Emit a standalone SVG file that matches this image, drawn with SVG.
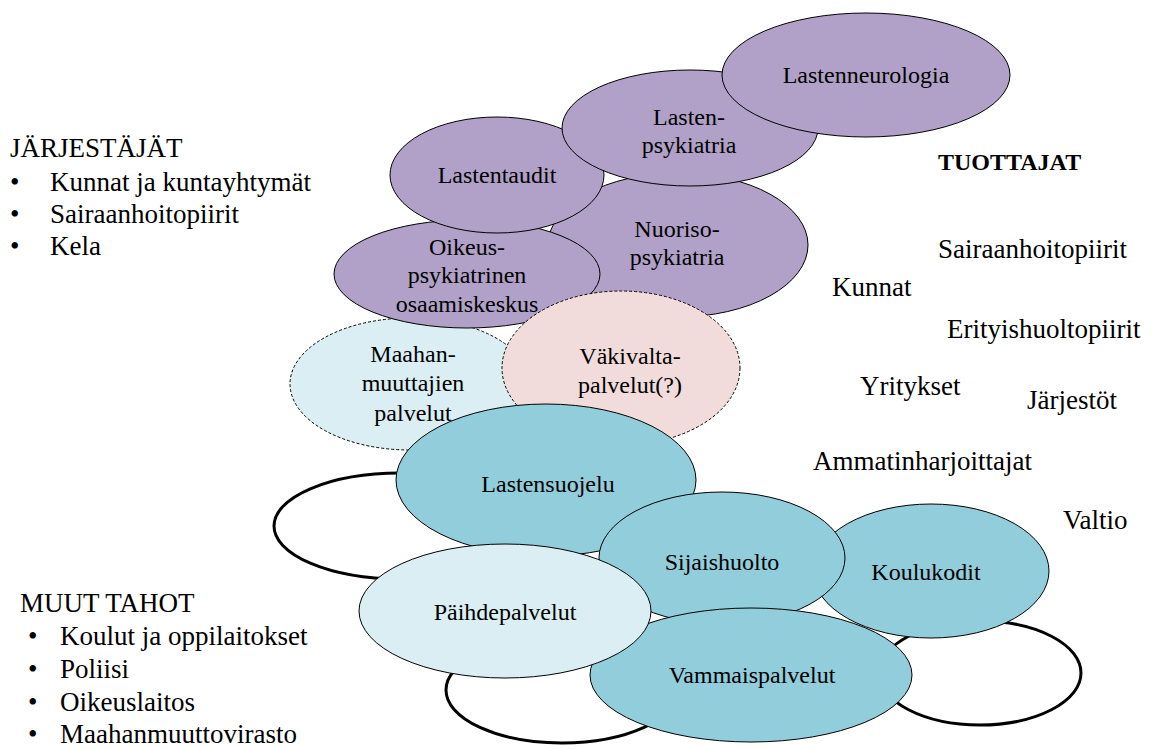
<svg xmlns="http://www.w3.org/2000/svg" width="1151" height="749" viewBox="0 0 1151 749">
  <style>
    text { font-family: 'Liberation Serif', 'DejaVu Serif', serif; fill: #000; }
    .lbl { font-size: 24px; text-anchor: middle; }
    .side { font-size: 27px; }
    .head { font-size: 24px; font-weight: bold; }
    .purple { fill: #B1A0C7; stroke: #000; stroke-width: 1; }
    .teal { fill: #92CDDC; stroke: #000; stroke-width: 1; }
    .pale { fill: #DAEEF3; stroke: #000; stroke-width: 1; }
    .dash-blue { fill: #DAEEF3; stroke: #000; stroke-width: 1; stroke-dasharray: 3 2; }
    .dash-pink { fill: #F2DCDB; stroke: #000; stroke-width: 1; stroke-dasharray: 3 2; }
    .blank { fill: #FFFFFF; stroke: #000; stroke-width: 3; }
  </style>
  <rect width="1151" height="749" fill="#FFFFFF"/>

  <!-- left-hand lists -->
  <g id="jarjestajat" font-family="Liberation Serif, serif">
    <text class="side" x="10" y="157">JÄRJESTÄJÄT</text>
    <text class="side" x="10" y="191">•</text>
    <text class="side" x="50" y="191">Kunnat ja kuntayhtymät</text>
    <text class="side" x="10" y="223">•</text>
    <text class="side" x="50" y="223">Sairaanhoitopiirit</text>
    <text class="side" x="10" y="255">•</text>
    <text class="side" x="50" y="255">Kela</text>
  </g>
  <g id="muut-tahot">
    <text class="side" x="20" y="612">MUUT TAHOT</text>
    <text class="side" x="28" y="645">•</text>
    <text class="side" x="60" y="645">Koulut ja oppilaitokset</text>
    <text class="side" x="28" y="678">•</text>
    <text class="side" x="60" y="678">Poliisi</text>
    <text class="side" x="28" y="711">•</text>
    <text class="side" x="60" y="711">Oikeuslaitos</text>
    <text class="side" x="28" y="743">•</text>
    <text class="side" x="60" y="743">Maahanmuuttovirasto</text>
  </g>

  <!-- producers on the right -->
  <g id="tuottajat">
    <text class="head" x="938" y="170">TUOTTAJAT</text>
    <text class="side" x="938" y="258">Sairaanhoitopiirit</text>
    <text class="side" x="832" y="296">Kunnat</text>
    <text class="side" x="947" y="338">Erityishuoltopiirit</text>
    <text class="side" x="860" y="395">Yritykset</text>
    <text class="side" x="1027" y="409">Järjestöt</text>
    <text class="side" x="813" y="470">Ammatinharjoittajat</text>
    <text class="side" x="1063" y="529">Valtio</text>
  </g>

  <!-- empty outlined ellipses behind the lower cluster -->
  <g id="blank-left"><ellipse class="blank" cx="400" cy="526" rx="126" ry="53"/></g>
  <g id="blank-bottom"><ellipse class="blank" cx="562" cy="690" rx="116" ry="53"/></g>
  <g id="blank-right"><ellipse class="blank" cx="980" cy="673" rx="101" ry="52"/></g>

  <!-- dashed: immigrant services -->
  <g id="maahanmuuttajien-palvelut">
    <ellipse class="dash-blue" cx="410" cy="384" rx="120" ry="66"/>
    <text class="lbl" x="413" y="362">Maahan-</text>
    <text class="lbl" x="413" y="391">muuttajien</text>
    <text class="lbl" x="413" y="421">palvelut</text>
  </g>

  <!-- health-care cluster -->
  <g id="nuorisopsykiatria">
    <ellipse class="purple" cx="678" cy="245" rx="130" ry="72"/>
    <text class="lbl" x="677" y="237">Nuoriso-</text>
    <text class="lbl" x="677" y="265">psykiatria</text>
  </g>
  <g id="oikeuspsykiatria">
    <ellipse class="purple" cx="467" cy="274" rx="133" ry="54"/>
    <text class="lbl" x="467" y="255">Oikeus-</text>
    <text class="lbl" x="467" y="283">psykiatrinen</text>
    <text class="lbl" x="467" y="312">osaamiskeskus</text>
  </g>
  <g id="lastentaudit">
    <ellipse class="purple" cx="497" cy="175" rx="107" ry="58"/>
    <text class="lbl" x="497" y="183">Lastentaudit</text>
  </g>
  <g id="lastenpsykiatria">
    <ellipse class="purple" cx="690" cy="128" rx="128" ry="58"/>
    <text class="lbl" x="689" y="125">Lasten-</text>
    <text class="lbl" x="689" y="153">psykiatria</text>
  </g>
  <g id="lastenneurologia">
    <ellipse class="purple" cx="866" cy="75" rx="144" ry="62"/>
    <text class="lbl" x="866" y="83">Lastenneurologia</text>
  </g>

  <!-- dashed: violence services -->
  <g id="vakivaltapalvelut">
    <ellipse class="dash-pink" cx="621" cy="368" rx="119" ry="77"/>
    <text class="lbl" x="630" y="364">Väkivalta-</text>
    <text class="lbl" x="630" y="393">palvelut(?)</text>
  </g>

  <!-- social-care cluster -->
  <g id="lastensuojelu">
    <ellipse class="teal" cx="546" cy="480" rx="150" ry="76"/>
    <text class="lbl" x="548" y="492">Lastensuojelu</text>
  </g>
  <g id="koulukodit">
    <ellipse class="teal" cx="931" cy="571" rx="118" ry="67"/>
    <text class="lbl" x="926" y="580">Koulukodit</text>
  </g>
  <g id="sijaishuolto">
    <ellipse class="teal" cx="722" cy="558" rx="123" ry="66"/>
    <text class="lbl" x="722" y="570">Sijaishuolto</text>
  </g>
  <g id="vammaispalvelut">
    <ellipse class="teal" cx="751" cy="675" rx="161" ry="67"/>
    <text class="lbl" x="752" y="683">Vammaispalvelut</text>
  </g>
  <g id="paihdepalvelut">
    <ellipse class="pale" cx="505" cy="611" rx="146" ry="67"/>
    <text class="lbl" x="505" y="620">Päihdepalvelut</text>
  </g>

  <g id="connectors"/>
</svg>
